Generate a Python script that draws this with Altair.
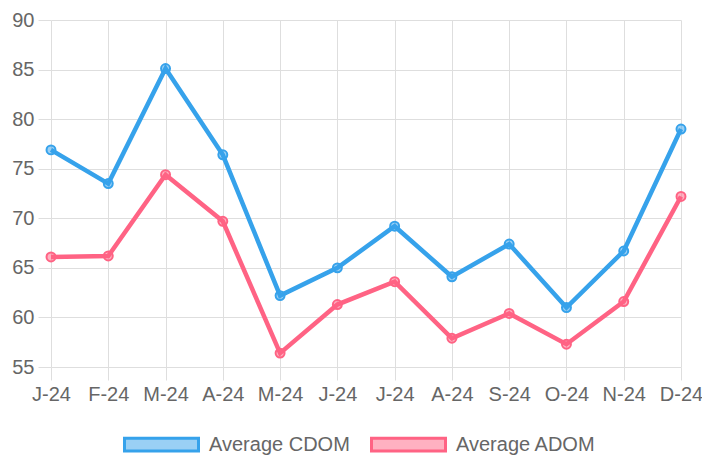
import altair as alt
import pandas as pd

months = ["J-24", "F-24", "M-24", "A-24", "M-24", "J-24", "J-24", "A-24", "S-24", "O-24", "N-24", "D-24"]
cdom = [76.9, 73.5, 85.1, 76.4, 62.2, 65.0, 69.2, 64.1, 67.4, 61.0, 66.7, 79.0]
adom = [66.1, 66.2, 74.4, 69.7, 56.4, 61.3, 63.6, 57.9, 60.4, 57.3, 61.6, 72.2]
series_names = ["Average CDOM", "Average ADOM"]
line_colors = ["#36a2eb", "#ff6384"]
fill_colors = ["rgba(54,162,235,0.5)", "rgba(255,99,132,0.5)"]
y_ticks = [55, 60, 65, 70, 75, 80, 85, 90]

rows = []
for i, (c, a) in enumerate(zip(cdom, adom)):
    rows.append({"idx": i, "series": series_names[0], "value": c})
    rows.append({"idx": i, "series": series_names[1], "value": a})
df = pd.DataFrame(rows)

label_expr = "[" + ",".join(f"'{m}'" for m in months) + "][datum.value]"

FONT = "Liberation Sans"
GRID = "#dedede"

axis_common = dict(
    grid=True, gridColor=GRID, gridWidth=1, domain=False,
    ticks=True, tickColor=GRID, tickSize=13, labelPadding=4,
    labelColor="#666666", labelFont=FONT, labelFontSize=20, title=None,
    labelOverlap=False, labelFlush=False,
)

x = alt.X(
    "idx:Q",
    scale=alt.Scale(domain=[0, len(months) - 1], nice=False, zero=False),
    axis=alt.Axis(values=list(range(len(months))), labelExpr=label_expr, labelAngle=0, **axis_common),
)
y = alt.Y(
    "value:Q",
    scale=alt.Scale(domain=[55, 90], nice=False, zero=False),
    axis=alt.Axis(values=y_ticks, **axis_common),
)

legend = alt.Legend(
    orient="none", legendX=72, legendY=386, direction="horizontal", title=None,
    symbolType="M-1,-0.17L1,-0.17L1,0.17L-1,0.17Z", symbolSize=5476, symbolStrokeWidth=3,
    labelFont=FONT, labelFontSize=20, labelColor="#666666", labelOffset=9, columnPadding=15,
)

stroke_enc = alt.Stroke("series:N", scale=alt.Scale(domain=series_names, range=line_colors), legend=legend)
fill_enc = alt.Fill("series:N", scale=alt.Scale(domain=series_names, range=fill_colors), legend=legend)

lines = alt.Chart(df).mark_line(strokeWidth=4.5).encode(x=x, y=y, stroke=stroke_enc)
points = alt.Chart(df).mark_point(shape="circle", size=80, strokeWidth=2, filled=True, opacity=1).encode(
    x=x, y=y, stroke=stroke_enc, fill=fill_enc
)

chart = alt.layer(lines, points).properties(
    width=630, height=347,
    autosize=alt.AutoSizeParams(type="none"),
    padding={"left": 43, "top": 12, "right": 21, "bottom": 88},
).configure_view(stroke=None)

chart.save("out.html", embed_options={"renderer": "svg", "actions": False})
